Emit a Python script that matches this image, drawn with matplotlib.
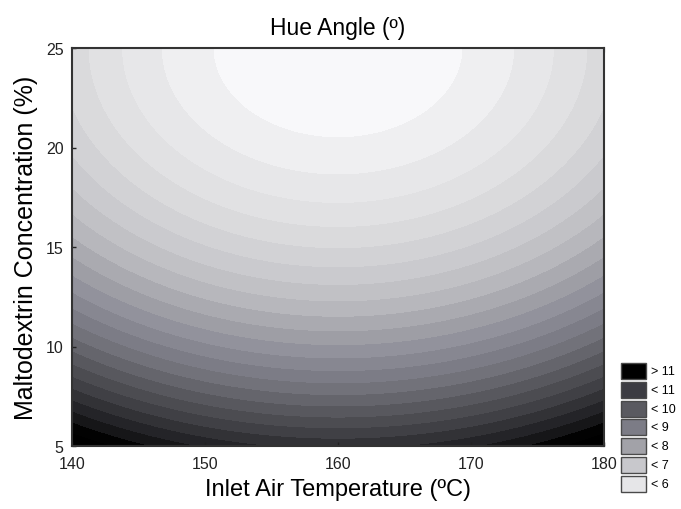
import numpy as np
import matplotlib.pyplot as plt
from matplotlib.colors import LinearSegmentedColormap, Normalize
from matplotlib.patches import Rectangle

plt.rcParams['font.family'] = ['Liberation Sans', 'DejaVu Sans']

# fitted response surface for hue angle, coded variables
# x1 = (T - 160) / 20, x2 = (M - 15) / 10
b0, b1, b2 = 6.475, 0.0, -2.95
b11, b22, b12 = 1.36, 1.475, 0.0

temp_range = [140, 180]
conc_range = [5, 25]

# legend (Statistica style)
legend_labels = ['> 11', '< 11', '< 10', '< 9', '< 8', '< 7', '< 6']
legend_colors = ['#000000', '#3c3c42', '#5a5a60', '#7c7c86', '#a2a2a8', '#c8c8cc', '#e6e6e8']

# grey scale anchors (value -> colour)
cmap_vals = [5.0, 5.15, 5.45, 5.75, 6.05, 6.35, 7.0, 7.5, 8.0, 8.5, 9.0, 9.5, 10.0, 10.5, 11.0, 11.5, 11.8]
cmap_cols = ['#fafafb', '#f8f8fa', '#eeeef0', '#e7e7e9', '#e1e1e3', '#dadadc', '#c9c9cd', '#b8b8bd',
             '#a4a4aa', '#90909a', '#7e7e88', '#6c6c74', '#56565c', '#424247', '#2c2c30', '#141416', '#000000']

T = np.linspace(temp_range[0], temp_range[1], 300)
M = np.linspace(conc_range[0], conc_range[1], 300)
TT, MM = np.meshgrid(T, M)
x1 = (TT - 160) / 20
x2 = (MM - 15) / 10
H = b0 + b1 * x1 + b2 * x2 + b11 * x1**2 + b22 * x2**2 + b12 * x1 * x2

vmin, vmax = cmap_vals[0], cmap_vals[-1]
pos = [(v - vmin) / (vmax - vmin) for v in cmap_vals]
cmap = LinearSegmentedColormap.from_list('hue', list(zip(pos, cmap_cols)))
norm = Normalize(vmin, vmax)

fig = plt.figure(figsize=(6.81, 5.10), dpi=100)
ax = fig.add_axes([72 / 681, 1 - 447 / 510, (604 - 72) / 681, (447 - 49) / 510])

levels = np.arange(5.0, 13.0, 0.3)
ax.contourf(TT, MM, H, levels=levels, cmap=cmap, norm=norm, extend='both')

ax.set_xlim(temp_range)
ax.set_ylim(conc_range)
ax.set_xticks([140, 150, 160, 170, 180])
ax.set_yticks([5, 10, 15, 20, 25])
ax.tick_params(direction='in', length=3, labelsize=11.5, width=1, colors='#222222')
ax.tick_params(axis='x', pad=7)
ax.tick_params(axis='y', pad=6)
for s in ax.spines.values():
    s.set_linewidth(1.5)
    s.set_color('#333333')

top = ax.secondary_xaxis('top')
top.set_xticks(np.arange(140, 181, 5))
top.tick_params(direction='in', length=3, labeltop=False, colors='#222222')
top.spines['top'].set_visible(False)
right = ax.secondary_yaxis('right')
right.set_yticks(np.arange(5, 25.1, 2.5))
right.tick_params(direction='in', length=3, labelright=False, colors='#222222')
right.spines['right'].set_visible(False)

ax.set_title('Hue Angle (º)', fontsize=16.5, pad=10)
ax.set_xlabel('Inlet Air Temperature (ºC)', fontsize=17, labelpad=5)
ax.set_ylabel('Maltodextrin Concentration (%)', fontsize=18, labelpad=6)

# legend boxes
for i, (lab, col) in enumerate(zip(legend_labels, legend_colors)):
    y_top = 364 + i * 18.8
    r = Rectangle((621 / 681, 1 - (y_top + 16) / 510), 25 / 681, 16 / 510,
                  transform=fig.transFigure, facecolor=col, edgecolor='#4a4a4a', lw=1)
    fig.patches.append(r)
    fig.text(651 / 681, 1 - (y_top + 8) / 510, lab, fontsize=9, va='center', ha='left')

fig.savefig('out.png', dpi=100)
